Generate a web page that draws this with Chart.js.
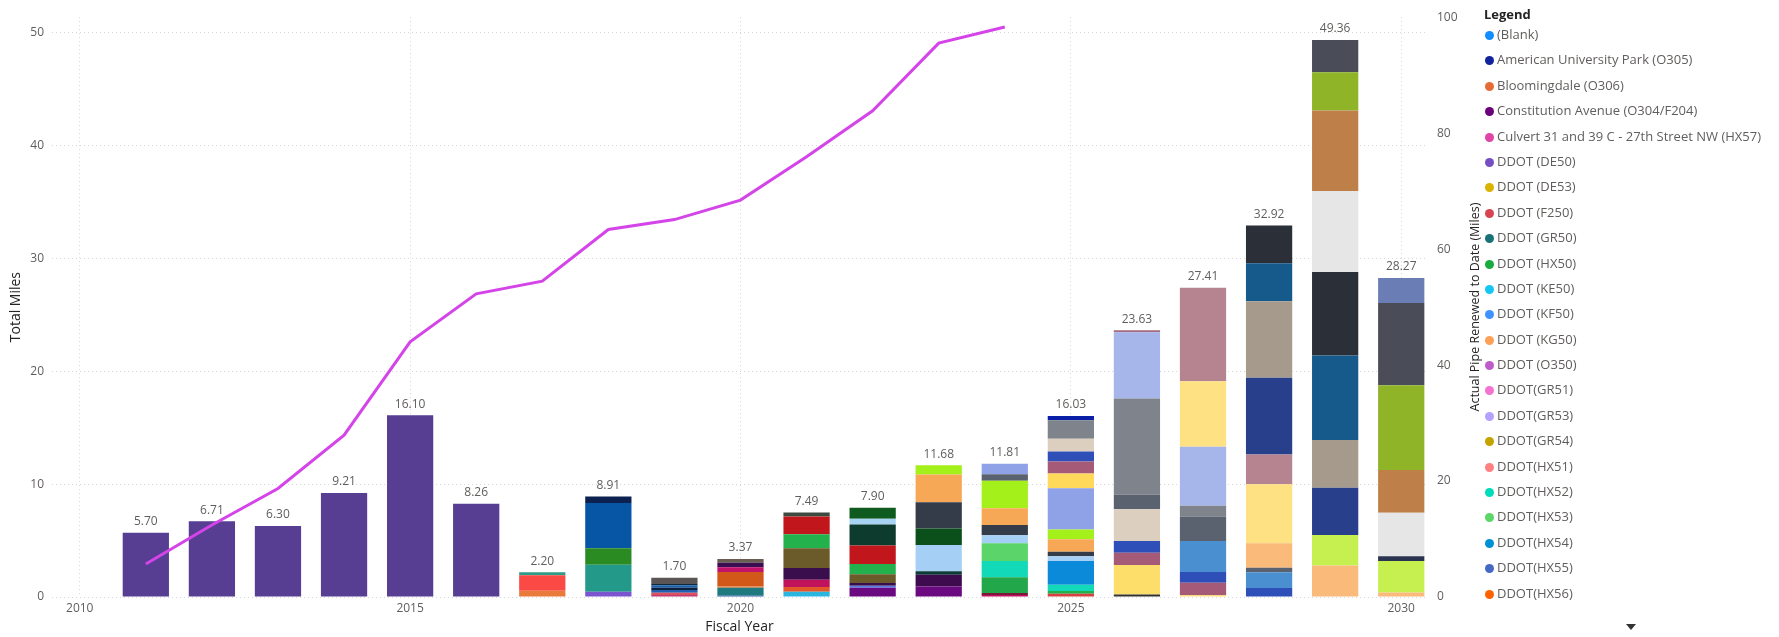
<!DOCTYPE html>
<html>
<head>
<meta charset="utf-8">
<script src="https://cdn.jsdelivr.net/npm/chart.js@4"></script>
<style>
  html, body { margin: 0; padding: 0; background: #fff; }
  body { width: 1779px; height: 637px; position: relative; overflow: hidden; font-family: 'Segoe UI', 'Open Sans', sans-serif; }
  #chart-container { position: absolute; left: 0; top: 0; width: 1490px; height: 637px; }
  #legend-title { position: absolute; left: 1484px; top: 5px; font-size: 13px; font-weight: bold; color: #252423; line-height: 18px; }
  #legend-items { position: absolute; left: 1485px; top: 22px; margin: 0; padding: 0; list-style: none; }
  #legend-items li { height: 25.4px; line-height: 25.4px; font-size: 13px; color: #605e5c; white-space: nowrap; }
  #legend-items .dot { display: inline-block; width: 9px; height: 9px; border-radius: 50%; margin-right: 3px; vertical-align: -1px; }
  #more { position: absolute; left: 1626px; top: 624px; width: 0; height: 0; border-left: 5px solid transparent; border-right: 5px solid transparent; border-top: 6px solid #333; }
</style>
</head>
<body>
<div id="chart-container"><canvas id="chart" width="1490" height="637"></canvas></div>
<div id="legend-title">Legend</div>
<ul id="legend-items"></ul>
<div id="more"></div>
<script>
const years = [2011, 2012, 2013, 2014, 2015, 2016, 2017, 2018, 2019, 2020,
  2021, 2022, 2023, 2024, 2025, 2026, 2027, 2028, 2029, 2030];
const xTicks = [2010, 2015, 2020, 2025, 2030];
const yearTotals = [5.70, 6.71, 6.30, 9.21, 16.10, 8.26, 2.20, 8.91, 1.70, 3.37,
  7.49, 7.90, 11.68, 11.81, 16.03, 23.63, 27.41, 32.92, 49.36, 28.27];

// cumulative actual pipe renewed (right axis)
const lineYears = [2011, 2012, 2013, 2014, 2015, 2016, 2017, 2018, 2019, 2020, 2021, 2022, 2023, 2024];
const pipeRenewedToDate = [5.70, 12.41, 18.71, 27.92, 44.02, 52.28, 54.48, 63.39, 65.09, 68.46, 75.95, 83.85, 95.53, 98.3];

// project segments per year, bottom to top (miles)
const segmentValues = [
  [5.70],
  [6.71],
  [6.30],
  [9.21],
  [16.10],
  [8.26],
  [0.56, 1.36, 0.28],
  [0.47, 2.38, 1.47, 4.00, 0.59],
  [0.18, 0.20, 0.25, 0.18, 0.22, 0.12, 0.55],
  [0.10, 0.72, 0.12, 1.28, 0.42, 0.40, 0.33],
  [0.47, 0.41, 0.65, 1.03, 1.76, 1.23, 1.59, 0.35],
  [0.82, 0.18, 0.23, 0.79, 0.91, 1.64, 1.86, 0.50, 0.97],
  [0.94, 1.03, 0.32, 2.32, 1.47, 2.32, 2.46, 0.82],
  [0.18, 0.17, 1.41, 1.44, 1.56, 0.70, 0.91, 1.50, 2.44, 0.56, 0.94],
  [0.29, 0.24, 0.56, 2.11, 0.41, 0.41, 1.09, 0.88, 3.64, 1.32, 1.06, 0.88, 1.12, 1.64, 0.38],
  [0.23, 2.61, 1.09, 1.03, 2.82, 1.29, 8.51, 5.87, 0.18],
  [0.15, 1.12, 0.94, 2.76, 2.17, 0.94, 5.23, 5.81, 8.29],
  [0.79, 1.41, 0.39, 2.17, 5.23, 2.63, 6.80, 6.78, 3.36, 3.36],
  [2.80, 2.70, 4.18, 4.24, 7.48, 7.40, 7.17, 7.14, 3.39, 2.86],
  [0.39, 2.80, 0.43, 3.85, 3.78, 7.50, 7.30, 2.22]
];
const segmentColors = [
  ['#573e92'],
  ['#573e92'],
  ['#573e92'],
  ['#573e92'],
  ['#573e92'],
  ['#573e92'],
  ['#ea7a3c', '#fb4a45', '#2f9a86'],
  ['#7a55cf', '#23998a', '#2b8b23', '#0656a5', '#0c2150'],
  ['#c23b6e', '#df4f60', '#2160b0', '#0d1f3c', '#1d5fa8', '#0f2a40', '#5b5555'],
  ['#3c5fb0', '#1f7a80', '#e07a3a', '#d2581a', '#c2126c', '#3b0f4f', '#6a5d52'],
  ['#2bb6e2', '#e2582b', '#c1125c', '#3a0d4c', '#6b5a2a', '#22b14c', '#c1161c', '#3c4a40'],
  ['#6b0a80', '#5b7be0', '#3a0d4c', '#6b5a2a', '#22b14c', '#c1161c', '#0d3b2e', '#a6d4f2', '#0f5a1e'],
  ['#6b0a80', '#3e0c4e', '#0d3b3a', '#a6cff5', '#0b4f1a', '#343c4a', '#f7a857', '#a3f01a'],
  ['#c0125a', '#7a1a3a', '#22a84a', '#12d9b8', '#5bd46a', '#a6cff5', '#343c4a', '#f7a857', '#a3f01a', '#5a6270', '#8fa2e8'],
  ['#d94040', '#22b14c', '#12d9b8', '#0a8ad8', '#a6cff5', '#343c4a', '#f7a857', '#a3f01a', '#8fa2e8', '#ffd95a', '#a55a78', '#2e4fb8', '#dccfc0', '#7e838c', '#0a1fa8'],
  ['#333333', '#fdde6a', '#a55a78', '#2e4fb8', '#dccfc0', '#5a6270', '#7e838c', '#a6b5ea', '#a56a80'],
  ['#fdde6a', '#a55a78', '#2e4fb8', '#4a8fcf', '#5a6270', '#7e838c', '#a6b5ea', '#fde183', '#b58490'],
  ['#2e4fb8', '#4a8fcf', '#5a6270', '#f9ba7a', '#fde183', '#b58490', '#283f8c', '#a59a8c', '#165a8c', '#2a2f38'],
  ['#f9ba7a', '#c5f050', '#283f8c', '#a59a8c', '#165a8c', '#2a2f38', '#e6e6e6', '#be8048', '#8fb428', '#4a4d57'],
  ['#f9ba7a', '#c5f050', '#2a3350', '#e6e6e6', '#be8048', '#8fb428', '#4a4d57', '#6a7db5']
];

const legendNames = ['(Blank)', 'American University Park (O305)', 'Bloomingdale (O306)',
  'Constitution Avenue (O304/F204)', 'Culvert 31 and 39 C - 27th Street NW (HX57)',
  'DDOT (DE50)', 'DDOT (DE53)', 'DDOT (F250)', 'DDOT (GR50)', 'DDOT (HX50)', 'DDOT (KE50)',
  'DDOT (KF50)', 'DDOT (KG50)', 'DDOT (O350)', 'DDOT(GR51)', 'DDOT(GR53)', 'DDOT(GR54)',
  'DDOT(HX51)', 'DDOT(HX52)', 'DDOT(HX53)', 'DDOT(HX54)', 'DDOT(HX55)', 'DDOT(HX56)'];
const legendColors = ['#118dff', '#12239e', '#e66c37', '#6b007b', '#e044a7', '#744ec2', '#d9b300',
  '#d64550', '#197278', '#1aab40', '#15c6f4', '#4092ff', '#ffa058', '#be5dc9', '#f472d0',
  '#b5a1ff', '#c4a200', '#ff8080', '#00dbbc', '#5bd667', '#0091d5', '#4668c5', '#ff6300'];

const font = "'Segoe UI', 'Open Sans', sans-serif";

// legend
const legendList = document.querySelector('#legend-items');
legendNames.forEach((name, i) => {
  const li = document.createElement('li');
  const dot = document.createElement('span');
  dot.className = 'dot';
  dot.style.background = legendColors[i];
  li.appendChild(dot);
  li.appendChild(document.createTextNode(name));
  legendList.appendChild(li);
});

// one bar dataset per stack layer
const layerCount = Math.max(...segmentValues.map(s => s.length));
const barDatasets = [];
for (let k = 0; k < layerCount; k++) {
  barDatasets.push({
    type: 'bar',
    yAxisID: 'y',
    data: years.map((yr, i) => ({ x: yr, y: segmentValues[i][k] ?? null })),
    backgroundColor: years.map((yr, i) => segmentColors[i][k] || 'rgba(0,0,0,0)'),
    borderWidth: 0,
    categoryPercentage: 1,
    barPercentage: 0.7
  });
}

const totalsPlugin = {
  id: 'totals',
  afterDatasetsDraw(chart) {
    const { ctx, scales: { x, y } } = chart;
    ctx.save();
    ctx.font = '12px ' + font;
    ctx.fillStyle = '#605e5c';
    ctx.textAlign = 'center';
    ctx.textBaseline = 'bottom';
    years.forEach((yr, i) => {
      ctx.fillText(yearTotals[i].toFixed(2), x.getPixelForValue(yr), y.getPixelForValue(yearTotals[i]) - 5);
    });
    ctx.restore();
  }
};

// right axis title sits between the axis labels and the legend
const rightTitlePlugin = {
  id: 'rightTitle',
  afterDraw(chart) {
    const { ctx, chartArea } = chart;
    ctx.save();
    ctx.translate(1475, (chartArea.top + chartArea.bottom) / 2);
    ctx.rotate(-Math.PI / 2);
    ctx.font = '12.5px ' + font;
    ctx.fillStyle = '#252423';
    ctx.textAlign = 'center';
    ctx.textBaseline = 'middle';
    ctx.fillText('Actual Pipe Renewed to Date (Miles)', 0, 0);
    ctx.restore();
  }
};

const chart = new Chart(document.querySelector('#chart'), {
  type: 'bar',
  data: {
    datasets: [{
      type: 'line',
      yAxisID: 'y1',
      data: lineYears.map((yr, i) => ({ x: yr, y: pipeRenewedToDate[i] })),
      borderColor: '#d444e8',
      borderWidth: 3,
      pointRadius: 0,
      tension: 0,
      fill: false
    }, ...barDatasets]
  },
  options: {
    responsive: false,
    animation: false,
    layout: { padding: { top: 14 } },
    plugins: {
      legend: { display: false },
      tooltip: { enabled: false }
    },
    scales: {
      x: {
        type: 'linear',
        stacked: true,
        min: 2009.58,
        max: 2030.39,
        offset: false,
        afterBuildTicks: s => { s.ticks = xTicks.map(v => ({ value: v })); },
        afterFit: s => { s.height = 40; },
        grid: { offset: false, color: '#d6d6d6', drawTicks: false },
        border: { display: false, dash: [1, 3] },
        ticks: { padding: 4, color: '#605e5c', font: { family: font, size: 12 }, callback: v => String(v) },
        title: { display: true, text: 'Fiscal Year', color: '#252423', font: { family: font, size: 14 }, padding: { top: 0, bottom: 2 } }
      },
      y: {
        stacked: true,
        min: 0,
        max: 51.37,
        afterFit: s => { s.width = 52; },
        grid: { color: '#d6d6d6', drawTicks: false },
        border: { display: false, dash: [1, 3] },
        ticks: { stepSize: 10, includeBounds: false, padding: 8, color: '#605e5c', font: { family: font, size: 12 } },
        title: { display: true, text: 'Total Miles', color: '#252423', font: { family: font, size: 14 }, padding: { top: 8, bottom: 0 } }
      },
      y1: {
        position: 'right',
        min: 0,
        max: 100,
        afterFit: s => { s.width = 63; },
        grid: { display: false, drawTicks: false },
        border: { display: false },
        ticks: { stepSize: 20, padding: 10, color: '#605e5c', font: { family: font, size: 12 } }
      }
    }
  },
  plugins: [totalsPlugin, rightTitlePlugin]
});
</script>
</body>
</html>
